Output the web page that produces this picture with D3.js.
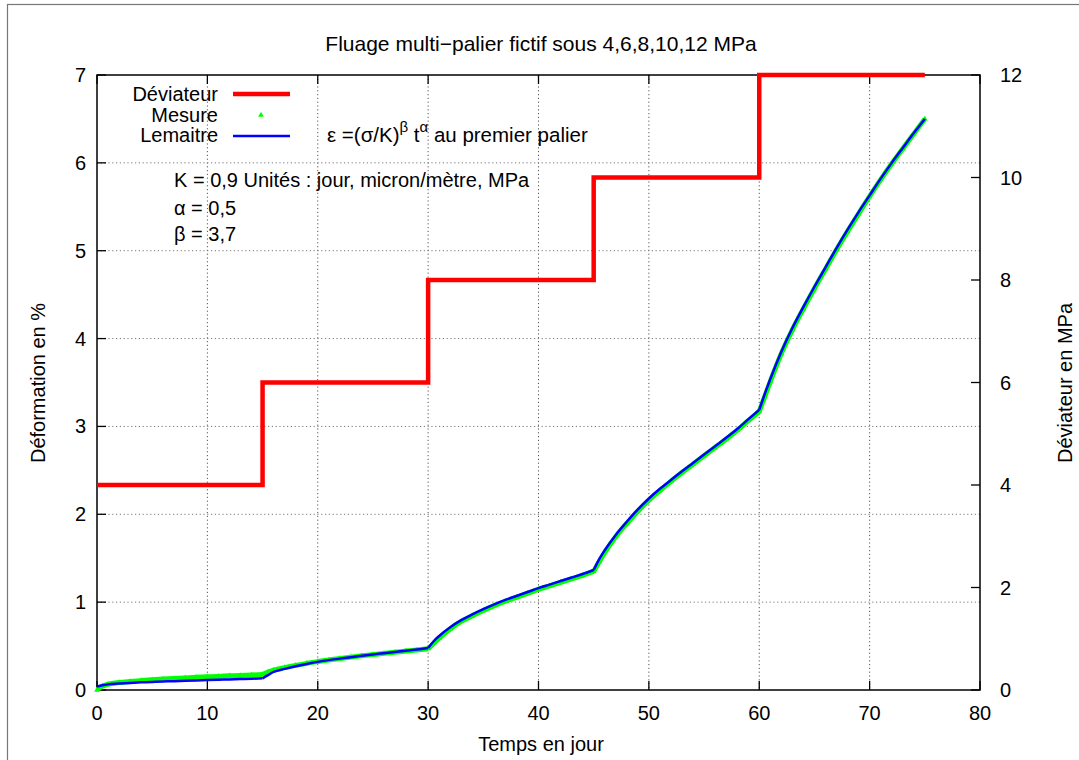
<!DOCTYPE html>
<html><head><meta charset="utf-8">
<script src="https://cdn.jsdelivr.net/npm/d3@7"></script>
<style>
body{margin:0;background:#fff;}
svg text{font-family:"Liberation Sans",Arial,sans-serif;fill:#000;}
</style></head>
<body><svg id="c" width="1079" height="760"></svg>
<script>
// ---- data ----
const times = [0,0.5,1,2,3,4,5,6,7,8,9,10,11,12,13,14,15,
  15.5,16,17,18,19,20,21,22,23,24,25,26,27,28,29,30,
  30.5,31,32,33,34,35,36,37,38,39,40,41,42,43,44,45,
  45.5,46,47,48,49,50,51,52,53,54,55,56,57,58,59,60,
  60.5,61,62,63,64,65,66,67,68,69,70,71,72,73,74,75];
const lemaitre = [0.04,0.055,0.064,0.073,0.081,0.087,0.092,0.097,0.101,0.105,0.109,0.113,0.117,0.120,0.124,0.128,0.133,
  0.17,0.205,0.24,0.27,0.297,0.32,0.34,0.357,0.374,0.39,0.405,0.419,0.433,0.447,0.46,0.478,
  0.555,0.615,0.715,0.795,0.86,0.92,0.975,1.025,1.07,1.115,1.16,1.2,1.24,1.28,1.32,1.366,
  1.49,1.59,1.765,1.915,2.055,2.18,2.29,2.39,2.49,2.585,2.68,2.775,2.87,2.97,3.08,3.19,
  3.37,3.54,3.85,4.12,4.36,4.59,4.81,5.03,5.24,5.44,5.63,5.82,6.0,6.17,6.34,6.5];
const mesure = [0.0,0.045,0.065,0.085,0.097,0.107,0.116,0.124,0.131,0.138,0.144,0.15,0.155,0.161,0.166,0.171,0.176,
  0.205,0.225,0.255,0.28,0.303,0.323,0.342,0.358,0.374,0.389,0.403,0.417,0.43,0.443,0.456,0.47,
  0.53,0.59,0.695,0.78,0.845,0.905,0.96,1.01,1.055,1.1,1.145,1.185,1.225,1.265,1.305,1.35,
  1.46,1.565,1.745,1.895,2.035,2.16,2.27,2.375,2.475,2.57,2.665,2.76,2.855,2.955,3.065,3.17,
  3.34,3.51,3.83,4.1,4.34,4.57,4.79,5.01,5.22,5.42,5.62,5.81,5.99,6.16,6.33,6.5];
const stageStart = [0,15,30,45,60,75];
const stageStress = [4,6,8,10,12,12];
const xTicks = [0,10,20,30,40,50,60,70,80];
const yTicks = [0,1,2,3,4,5,6,7];
const y2Ticks = [0,2,4,6,8,10,12];

const svg = d3.select("#c");
const L=97, R=980, T=75, B=690;
const x = d3.scaleLinear().domain([0,80]).range([L,R]);
const y = d3.scaleLinear().domain([0,7]).range([B,T]);
const y2 = d3.scaleLinear().domain([0,12]).range([B,T]);

// outer frame
svg.append("rect").attr("x",7.5).attr("y",4.5).attr("width",1100).attr("height",800)
  .attr("fill","none").attr("stroke","#777").attr("stroke-width",1.2);

// grid
const g = svg.append("g");
xTicks.slice(1,-1).forEach(t=>{
  g.append("line").attr("x1",x(t)).attr("x2",x(t)).attr("y1",T).attr("y2",B)
   .attr("stroke","#555").attr("stroke-width",1).attr("stroke-dasharray","1.2,2.6");
});
yTicks.slice(1,-1).forEach(t=>{
  g.append("line").attr("x1",L).attr("x2",R).attr("y1",y(t)).attr("y2",y(t))
   .attr("stroke","#777").attr("stroke-width",1).attr("stroke-dasharray","1.2,2.6");
});

// axes ticks (gnuplot style inward)
const ax = svg.append("g").attr("stroke","#000").attr("stroke-width",1.3);
xTicks.forEach(t=>{
  ax.append("line").attr("x1",x(t)).attr("x2",x(t)).attr("y1",B).attr("y2",B-9);
  ax.append("line").attr("x1",x(t)).attr("x2",x(t)).attr("y1",T).attr("y2",T+9);
});
yTicks.forEach(t=>{
  ax.append("line").attr("x1",L).attr("x2",L+9).attr("y1",y(t)).attr("y2",y(t));
});
y2Ticks.forEach(t=>{
  ax.append("line").attr("x1",R).attr("x2",R-9).attr("y1",y2(t)).attr("y2",y2(t));
});
svg.append("rect").attr("x",L).attr("y",T).attr("width",R-L).attr("height",B-T)
  .attr("fill","none").attr("stroke","#000").attr("stroke-width",1.5);

const fs = 20;
xTicks.forEach(t=>{
  svg.append("text").attr("x",x(t)).attr("y",B+30).attr("text-anchor","middle")
    .attr("font-size",fs).text(t);
});
yTicks.forEach(t=>{
  svg.append("text").attr("x",L-11).attr("y",y(t)+7).attr("text-anchor","end")
    .attr("font-size",fs).text(t);
});
y2Ticks.forEach(t=>{
  svg.append("text").attr("x",R+20).attr("y",y2(t)+7).attr("text-anchor","start")
    .attr("font-size",fs).text(t);
});

// titles
svg.append("text").attr("x",541).attr("y",51).attr("text-anchor","middle").attr("font-size",21)
  .text("Fluage multi\u2212palier fictif sous 4,6,8,10,12 MPa");
svg.append("text").attr("x",541).attr("y",751).attr("text-anchor","middle").attr("font-size",fs)
  .text("Temps en jour");
svg.append("text").attr("transform","translate(45,383) rotate(-90)").attr("text-anchor","middle")
  .attr("font-size",fs).text("Déformation en %");
svg.append("text").attr("transform","translate(1072,383) rotate(-90)").attr("text-anchor","middle")
  .attr("font-size",fs).text("Déviateur en MPa");

// data series
const pts = times.map((t,i)=>({t, l:lemaitre[i], m:mesure[i]}));
const tri = d3.symbol().type(d3.symbolTriangle).size(14);
for(let s=0;s<5;s++){
  const seg = pts.filter(p=>p.t>=stageStart[s] && p.t<=stageStart[s+1]);
  svg.append("path").datum(seg)
    .attr("d", d3.line().x(d=>x(d.t)).y(d=>y(d.m)).curve(d3.curveMonotoneX))
    .attr("fill","none").attr("stroke","#00ff00").attr("stroke-width",5);
}
svg.append("g").selectAll("path").data(pts).join("path")
  .attr("d",tri).attr("transform",d=>`translate(${x(d.t)},${y(d.m)})`).attr("fill","#00ff00");
for(let s=0;s<5;s++){
  const seg = pts.filter(p=>p.t>=stageStart[s] && p.t<=stageStart[s+1]);
  svg.append("path").datum(seg)
    .attr("d", d3.line().x(d=>x(d.t)).y(d=>y(d.l)).curve(d3.curveMonotoneX))
    .attr("fill","none").attr("stroke","#0000ff").attr("stroke-width",2.5);
}
// deviator
const dev = stageStart.map((t,i)=>({t, s:stageStress[i]}));
svg.append("path").datum(dev)
  .attr("d", d3.line().x(d=>x(d.t)).y(d=>y2(d.s)).curve(d3.curveStepAfter))
  .attr("fill","none").attr("stroke","#ff0000").attr("stroke-width",4.5);

// legend
const lg = svg.append("g").attr("font-size",fs);
lg.append("text").attr("x",218).attr("y",101).attr("text-anchor","end").text("Déviateur");
lg.append("line").attr("x1",233).attr("x2",290).attr("y1",94).attr("y2",94).attr("stroke","#ff0000").attr("stroke-width",4.5);
lg.append("text").attr("x",218).attr("y",122).attr("text-anchor","end").text("Mesure");
lg.append("path").attr("d",tri).attr("transform","translate(261,115)").attr("fill","#00ff00");
lg.append("text").attr("x",218).attr("y",142).attr("text-anchor","end").text("Lemaitre");
lg.append("line").attr("x1",233).attr("x2",290).attr("y1",136).attr("y2",136).attr("stroke","#0000ff").attr("stroke-width",2.5);

// annotations
const an = svg.append("g").attr("font-size",fs);
const f = an.append("text").attr("x",327).attr("y",142).attr("font-size",20.5);
f.append("tspan").text("ε =(σ/K)");
f.append("tspan").attr("dy",-10).attr("font-size",15).text("β");
f.append("tspan").attr("dy",10).text(" t");
f.append("tspan").attr("dy",-10).attr("font-size",15).text("α");
f.append("tspan").attr("dy",10).text(" au premier palier");
an.append("text").attr("x",174).attr("y",187).text("K = 0,9 Unités : jour, micron/mètre, MPa");
an.append("text").attr("x",174).attr("y",215).text("α = 0,5");
an.append("text").attr("x",174).attr("y",241).text("β = 3,7");
</script></body></html>
